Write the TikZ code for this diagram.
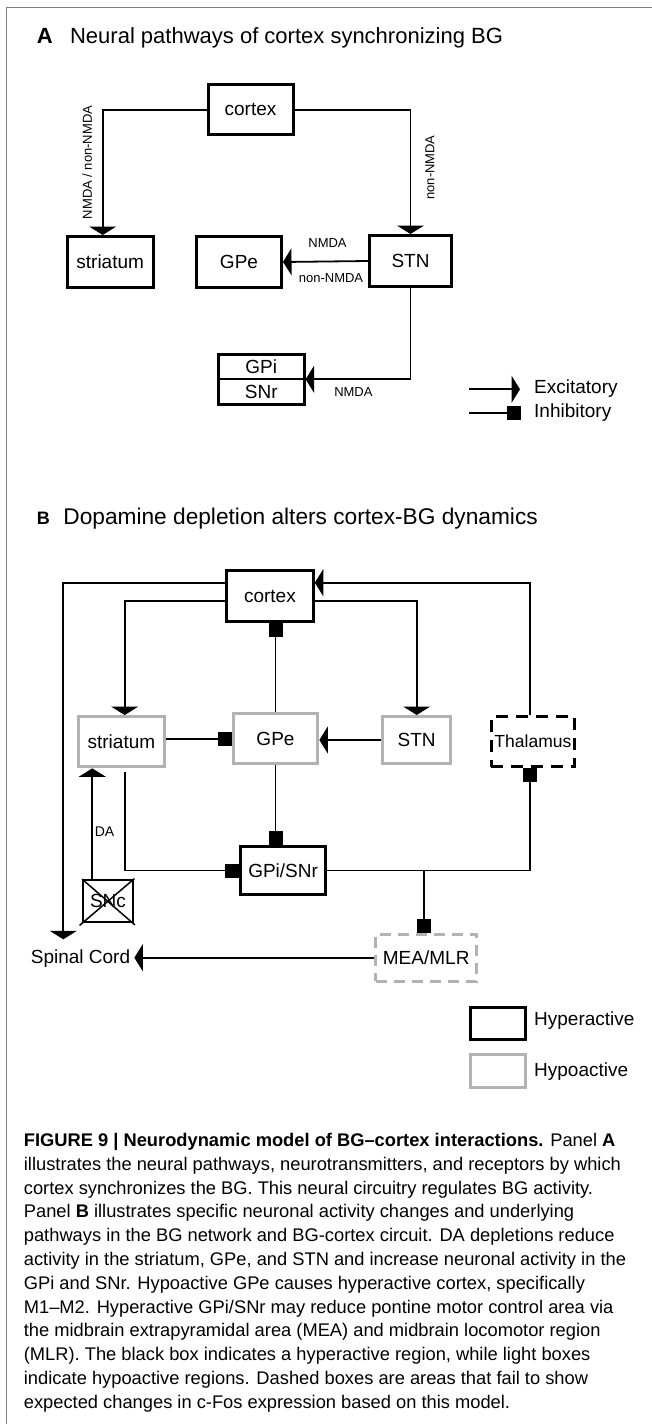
\documentclass[tikz,border=0pt]{standalone}
\usepackage{fontspec}
\setmainfont{Liberation Sans}
\usepackage{tikz}
\usetikzlibrary{arrows.meta}

\definecolor{hypogray}{gray}{0.7}
\definecolor{framegray}{gray}{0.5}

\begin{document}
\begin{tikzpicture}[x=1pt, y=-1pt,
    hyper/.style={draw, line width=3pt, inner sep=0pt, font=\fontsize{19}{22}\selectfont},
    hypo/.style={hyper, draw=hypogray},
    lbl/.style={inner sep=0pt, font=\fontsize{13}{15}\selectfont},
    txt/.style={inner sep=0pt, font=\fontsize{19}{22}\selectfont},
    exc/.style={line width=1.8pt, -{Triangle[width=27pt,length=8.5pt]}},
    inh/.style={line width=1.8pt, -{Square[width=14pt,length=14pt]}}]
      \useasboundingbox (0,0) rectangle (652,1424);
      \draw[framegray, line width=1.3pt] (652,7.5) -- (6.5,7.5) -- (6.5,1424);

      \node[inner sep=0pt, anchor=base west, font=\bfseries\fontsize{22}{26}\selectfont] (labA) at (36.6,43.3) {A};
      \node[inner sep=0pt, anchor=base west, font=\fontsize{22}{26}\selectfont] (titleA) at (69.9,43.3) {Neural pathways of cortex synchronizing BG};

      \node[hyper, minimum width=85pt, minimum height=50pt] (cortexA) at (250.5,109.7) {cortex};
      \node[hyper, minimum width=86pt, minimum height=51pt] (striatumA) at (110.2,262) {striatum};
      \node[hyper, minimum width=85pt, minimum height=51pt] (gpeA) at (239,262) {GPe};
      \node[hyper, minimum width=82pt, minimum height=51pt] (stnA) at (410.5,261) {STN};
      \node[hyper, minimum width=85.6pt, minimum height=50.3pt] (gpisnrA) at (261.3,379.3) {};
      \draw[line width=2pt] (gpisnrA.west) to (gpisnrA.east);
      \node[txt] (gpiA) at (261.3,367) {GPi};
      \node[txt] (snrA) at (261.3,392) {SNr};

      \draw[exc] (cortexA.west) -| ([xshift=-7.5pt]striatumA.north);
      \draw[exc] (cortexA.east) -| (stnA.north);
      \draw[exc] (stnA.west) to (gpeA.east);
      \draw[exc] (stnA.south) |- (gpisnrA.east);
      \node[lbl, rotate=90] (nmdaNonA) at (87.3,162.5) {NMDA / non-NMDA};
      \node[lbl, rotate=90] (nonNmdaA) at (430,167.5) {non-NMDA};
      \node[lbl] (nmdaGpe) at (327.5,243.5) {NMDA};
      \node[lbl] (nonNmdaGpe) at (331,278.5) {non-NMDA};
      \node[lbl] (nmdaGpi) at (353.4,391.7) {NMDA};

      \coordinate (excL) at (469,389.3);
      \coordinate (excR) at (520,389.3);
      \coordinate (inhL) at (469,413.3);
      \coordinate (inhR) at (521,413.3);
      \draw[exc] (excL) to (excR);
      \draw[inh] (inhL) to (inhR);
      \node[txt, anchor=west] (excTxt) at (534,388.3) {Excitatory};
      \node[txt, anchor=west] (inhTxt) at (534,412.3) {Inhibitory};

      \node[inner sep=0pt, anchor=base west, font=\bfseries\fontsize{18}{22}\selectfont] (labB) at (36.6,524) {B};
      \node[inner sep=0pt, anchor=base west, font=\fontsize{22.7}{26}\selectfont] (titleB) at (63.2,524) {Dopamine depletion alters cortex-BG dynamics};

      \node[hyper, minimum width=86.8pt, minimum height=51pt] (cortexB) at (269.9,596.3) {cortex};
      \node[hypo, minimum width=85.2pt, minimum height=50.3pt] (striatumB) at (121.4,741.7) {striatum};
      \node[hypo, minimum width=84.7pt, minimum height=49.7pt] (gpeB) at (275.5,738.7) {GPe};
      \node[hypo, minimum width=67.7pt, minimum height=47pt] (stnB) at (416.7,740) {STN};
      \node[hyper, dash pattern=on 12pt off 8pt, minimum width=83.1pt, minimum height=50.3pt, font=\fontsize{17.5}{20}\selectfont] (thalB) at (532.9,741.7) {Thalamus};
      \node[hyper, minimum width=85.2pt, minimum height=48pt] (gpisnrB) at (283.1,870.5) {GPi/SNr};
      \node[hyper, line width=1.8pt, minimum width=50pt, minimum height=42pt] (sncB) at (108,901) {SNc};
      \node[hypo, dash pattern=on 11pt off 7pt, minimum width=101pt, minimum height=47pt] (meaB) at (426.2,957.7) {MEA/MLR};
      \node[txt, inner xsep=4pt] (spinal) at (80.5,958.3) {Spinal Cord};
      \coordinate (spinalIn) at (63.3,939.3);

      \draw[line width=1.5pt] ([xshift=-2.5pt, yshift=-2.5pt]sncB.south west) to ([xshift=0.5pt, yshift=0.5pt]sncB.north east);
      \draw[line width=1.5pt] (sncB.north west) to ([xshift=1pt, yshift=-2pt]sncB.south east);

      \draw[exc] (cortexB.west |- 0,582.7) -| (spinalIn);
      \draw[exc] ([xshift=-3pt]thalB.north) |- (cortexB.east |- 0,582.7);
      \draw[exc] (cortexB.west |- 0,600.7) -| ([xshift=3.3pt]striatumB.north);
      \draw[exc] (cortexB.east |- 0,600.7) -| (stnB.north);
      \draw[inh] (gpeB.north) to (gpeB.north |- cortexB.south);
      \draw[inh] (striatumB.east |- 0,739.3) to (gpeB.west |- 0,739.3);
      \draw[exc] (stnB.west) to (gpeB.east |- stnB.west);
      \draw[inh] (gpeB.south) to (gpeB.south |- gpisnrB.north);
      \draw[inh] ([xshift=3.3pt, yshift=-4pt]striatumB.south) |- (gpisnrB.west);
      \draw[exc] ([xshift=-15.7pt]sncB.north) to ([xshift=-15.7pt]sncB.north |- striatumB.south);
      \node[lbl, font=\fontsize{14}{16}\selectfont] (daLbl) at (104.6,831.7) {DA};
      \draw[inh] (gpisnrB.east) -| ([xshift=-3pt]thalB.south);
      \coordinate (meaJoin) at ([xshift=-2pt]meaB.north |- gpisnrB.east);
      \draw[inh] (meaJoin) to ([xshift=-2pt]meaB.north);
      \draw[exc] (meaB.west) to (spinal.east |- meaB.west);

      \node[hyper, minimum width=55.6pt, minimum height=31.7pt] (hyperLeg) at (497.9,1023.4) {};
      \node[hypo, minimum width=55.6pt, minimum height=33.6pt] (hypoLeg) at (497.9,1071) {};
      \node[txt, anchor=west] (hyperTxt) at (534,1020.7) {Hyperactive};
      \node[txt, anchor=west] (hypoTxt) at (534,1071.7) {Hypoactive};

      \node[anchor=north west, inner sep=0pt, align=left, font=\fontsize{18.3}{23.8}\selectfont] (caption) at (23.7,1133) {\textbf{FIGURE 9 | Neurodynamic model of BG--cortex interactions.} Panel \textbf{A}\\
illustrates the neural pathways, neurotransmitters, and receptors by which\\
cortex synchronizes the BG. This neural circuitry regulates BG activity.\\
Panel \textbf{B} illustrates specific neuronal activity changes and underlying\\
pathways in the BG network and BG-cortex circuit. DA depletions reduce\\
activity in the striatum, GPe, and STN and increase neuronal activity in the\\
GPi and SNr. Hypoactive GPe causes hyperactive cortex, specifically\\
M1--M2. Hyperactive GPi/SNr may reduce pontine motor control area via\\
the midbrain extrapyramidal area (MEA) and midbrain locomotor region\\
(MLR). The black box indicates a hyperactive region, while light boxes\\
indicate hypoactive regions. Dashed boxes are areas that fail to show\\
expected changes in c-Fos expression based on this model.};
    \end{tikzpicture}
\end{document}
